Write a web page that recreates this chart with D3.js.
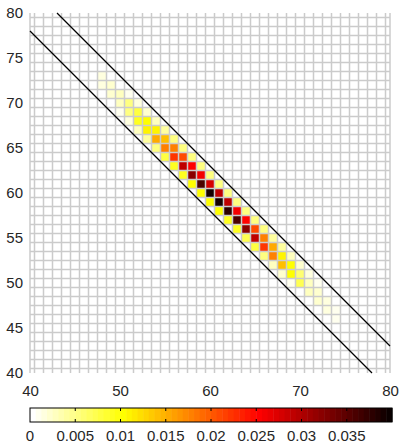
<!doctype html>
<meta charset="utf-8">
<title>Diagonal band heatmap</title>
<script src="https://cdn.jsdelivr.net/npm/d3@7"></script>
<style>
body { margin: 0; background: #fff; }
svg text { font-family: "Liberation Sans", Arial, sans-serif; fill: #262626; }
</style>
<svg id="chart" width="399" height="444"></svg>
<script>
// cells along anti-diagonals x + y = const, one pair of arrays per diagonal
var diag119X = [50, 51, 52, 53, 54, 55, 56, 57, 58, 59, 60, 61, 62, 63, 64, 65, 66, 67, 68, 69];
var diag119V = [0.001, 0.0015, 0.003, 0.004, 0.005, 0.008, 0.009, 0.009, 0.01, 0.01,
                0.01, 0.01, 0.009, 0.009, 0.007, 0.008, 0.005, 0.003, 0.002, 0.001];

var diag120X = [48, 49, 50, 51, 52, 53, 54, 55, 56, 57, 58, 59, 60, 61, 62, 63, 64, 65, 66, 67, 68, 69, 70, 71, 72, 73, 74];
var diag120V = [0.0015, 0.002, 0.003, 0.005, 0.009, 0.011, 0.015, 0.018, 0.022, 0.029, 0.032, 0.036, 0.039, 0.039,
                0.038, 0.036, 0.032, 0.029, 0.022, 0.018, 0.014, 0.01, 0.007, 0.003, 0.002, 0.0015, 0.001];

var diag121X = [48, 49, 50, 51, 52, 53, 54, 55, 56, 57, 58, 59, 60, 61, 62, 63, 64, 65, 66, 67, 68, 69, 70, 71, 72, 73, 74];
var diag121V = [0.0015, 0.002, 0.003, 0.005, 0.008, 0.01, 0.011, 0.014, 0.018, 0.021, 0.025, 0.026, 0.028, 0.029,
                0.029, 0.026, 0.025, 0.021, 0.018, 0.015, 0.011, 0.01, 0.006, 0.003, 0.002, 0.0015, 0.001];

var diag122X = [51, 52, 53, 54, 55, 56, 57, 58, 59, 60, 61, 62, 63, 64, 65, 66, 67, 68, 69, 70, 71, 72];
var diag122V = [0.001, 0.0015, 0.002, 0.003, 0.004, 0.005, 0.005, 0.005, 0.005, 0.005, 0.005,
                0.005, 0.005, 0.005, 0.005, 0.005, 0.004, 0.004, 0.003, 0.002, 0.0015, 0.001];

var boundarySums = [118, 123];

var xTicks = [40, 50, 60, 70, 80];
var yTicks = [40, 45, 50, 55, 60, 65, 70, 75, 80];
var cbarTicks = [0, 0.005, 0.01, 0.015, 0.02, 0.025, 0.03, 0.035];
var cbarMax = 0.04;

var svg = d3.select("#chart");

var x = d3.scaleLinear().domain([40, 80]).range([30, 390]);
var y = d3.scaleLinear().domain([40, 80]).range([373, 13]);

// flipped matlab hot(64)
var nColors = 64, n3 = Math.floor(3 / 8 * nColors);
var hot = d3.range(nColors).map(function(i) {
  var r = i < n3 ? (i + 1) / n3 : 1,
      g = i < n3 ? 0 : (i < 2 * n3 ? (i - n3 + 1) / n3 : 1),
      b = i < 2 * n3 ? 0 : (i - 2 * n3 + 1) / (nColors - 2 * n3);
  return d3.rgb(r * 255, g * 255, b * 255).toString();
}).reverse();
var color = d3.scaleQuantize().domain([0, cbarMax]).range(hot);

var cells = [];
[[119, diag119X, diag119V], [120, diag120X, diag120V],
 [121, diag121X, diag121V], [122, diag122X, diag122V]].forEach(function(d) {
  d[1].forEach(function(cx, i) {
    cells.push({x: cx, y: d[0] - cx, v: d[2][i]});
  });
});

svg.append("g").selectAll("rect")
  .data(cells)
  .join("rect")
  .attr("x", function(d) { return x(d.x - 0.5); })
  .attr("y", function(d) { return y(d.y + 0.5); })
  .attr("width", x(1) - x(0))
  .attr("height", y(0) - y(1))
  .attr("fill", function(d) { return color(d.v); });

// grid
var grid = svg.append("g").attr("stroke", "#cbcbcb").attr("stroke-width", 1.5);
var gx = d3.range(40.5, 80, 1).concat([40, 80]);
grid.selectAll("line.v").data(gx).join("line").attr("class", "v")
  .attr("x1", function(d) { return x(d); }).attr("x2", function(d) { return x(d); })
  .attr("y1", y(80)).attr("y2", y(40));
grid.selectAll("line.h").data(d3.range(40.5, 80, 1)).join("line").attr("class", "h")
  .attr("y1", function(d) { return y(d); }).attr("y2", function(d) { return y(d); })
  .attr("x1", x(40)).attr("x2", x(80));

// band boundaries
svg.append("g").selectAll("line")
  .data(boundarySums)
  .join("line")
  .attr("x1", function(s) { return x(Math.max(40, s - 80)); })
  .attr("y1", function(s) { return y(Math.min(80, s - 40)); })
  .attr("x2", function(s) { return x(Math.min(80, s - 40)); })
  .attr("y2", function(s) { return y(Math.max(40, s - 80)); })
  .attr("stroke", "#000")
  .attr("stroke-width", 1.3);

// axes labels
var xAxis = svg.append("g")
  .attr("transform", "translate(0,382)")
  .call(d3.axisBottom(x).tickValues(xTicks).tickSize(0).tickFormat(d3.format("d")));
xAxis.select(".domain").remove();
xAxis.selectAll("text").attr("font-size", 15);

var yAxis = svg.append("g")
  .attr("transform", "translate(26,0)")
  .call(d3.axisLeft(y).tickValues(yTicks).tickSize(0).tickFormat(d3.format("d")));
yAxis.select(".domain").remove();
yAxis.selectAll("text").attr("font-size", 15).attr("x", -3);

// colorbar
var cb = d3.scaleLinear().domain([0, cbarMax]).range([30, 392]);
var cbTop = 408, cbH = 14;
svg.append("g").selectAll("rect")
  .data(hot)
  .join("rect")
  .attr("x", function(d, i) { return cb(i * cbarMax / nColors); })
  .attr("y", cbTop)
  .attr("width", cb(cbarMax / nColors) - cb(0) + 0.5)
  .attr("height", cbH)
  .attr("fill", function(d) { return d; });
svg.append("rect")
  .attr("x", cb(0)).attr("y", cbTop)
  .attr("width", cb(cbarMax) - cb(0)).attr("height", cbH)
  .attr("fill", "none").attr("stroke", "#000").attr("stroke-width", 1);

var cbTicks = svg.append("g").selectAll("g").data(cbarTicks.slice(1)).join("g");
cbTicks.append("line")
  .attr("x1", function(d) { return cb(d); }).attr("x2", function(d) { return cb(d); })
  .attr("y1", cbTop).attr("y2", cbTop + 3).attr("stroke", "#000");
cbTicks.append("line")
  .attr("x1", function(d) { return cb(d); }).attr("x2", function(d) { return cb(d); })
  .attr("y1", cbTop + cbH - 3).attr("y2", cbTop + cbH).attr("stroke", "#000");

svg.append("g").selectAll("text")
  .data(cbarTicks)
  .join("text")
  .attr("x", function(d) { return cb(d); })
  .attr("y", 441)
  .attr("text-anchor", "middle")
  .attr("font-size", 15)
  .text(function(d) { return d === 0 ? "0" : d3.format("")(d); });
</script>
